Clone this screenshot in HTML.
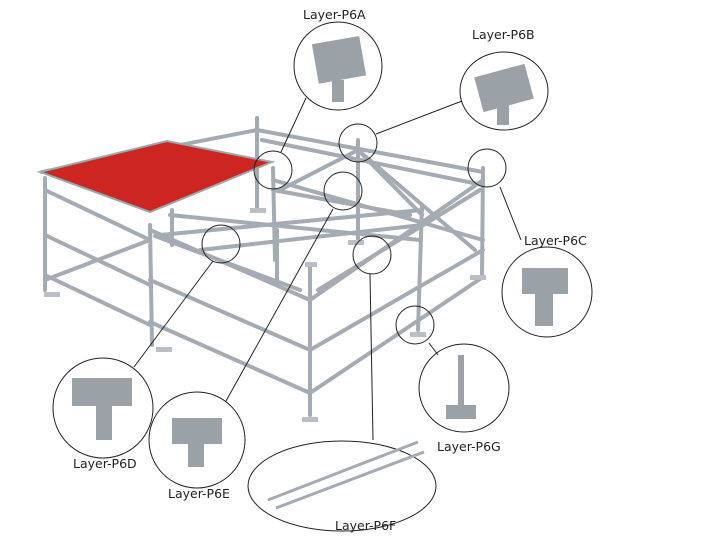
<!DOCTYPE html>
<html><head><style>body{margin:0;background:#fff}svg{display:block}text{font-family:"DejaVu Sans","Liberation Sans",sans-serif;font-size:12.5px;fill:#222}</style></head><body>
<svg width="718" height="557" viewBox="0 0 718 557" xmlns="http://www.w3.org/2000/svg">
<g stroke="#a4abb2" stroke-width="4" stroke-linecap="round" fill="none">
<!-- posts -->
<line x1="45" y1="178" x2="45" y2="290"/><line x1="150" y1="225" x2="152" y2="345"/>
<line x1="310" y1="265" x2="310" y2="415"/><line x1="422" y1="205" x2="418" y2="330"/>
<line x1="483" y1="168" x2="482" y2="275"/><line x1="257" y1="118" x2="257" y2="208"/>
<line x1="273" y1="168" x2="275" y2="260"/><line x1="358" y1="140" x2="358" y2="240"/>
<line x1="277" y1="230" x2="277" y2="285"/><line x1="172" y1="210" x2="172" y2="245"/>
<!-- front-left face -->
<line x1="45" y1="190" x2="150" y2="240"/><line x1="45" y1="235" x2="150" y2="285"/>
<line x1="45" y1="275" x2="150" y2="325"/><line x1="45" y1="280" x2="150" y2="240"/>
<!-- front face -->
<line x1="150" y1="230" x2="310" y2="300"/><line x1="150" y1="280" x2="310" y2="350"/>
<line x1="150" y1="322" x2="310" y2="393"/><line x1="155" y1="236" x2="300" y2="290"/>
<!-- right face -->
<line x1="310" y1="300" x2="483" y2="180"/><line x1="310" y1="350" x2="483" y2="250"/>
<line x1="310" y1="393" x2="483" y2="277"/><line x1="318" y1="290" x2="480" y2="190"/>
<!-- left & back -->
<line x1="42" y1="172" x2="257" y2="130"/><line x1="257" y1="130" x2="483" y2="172"/>
<line x1="262" y1="140" x2="483" y2="185"/><line x1="160" y1="235" x2="422" y2="210"/>
<line x1="273" y1="180" x2="483" y2="240"/><line x1="280" y1="190" x2="358" y2="150"/>
<line x1="358" y1="150" x2="422" y2="215"/><line x1="358" y1="150" x2="475" y2="250"/>
<line x1="200" y1="250" x2="422" y2="225"/><line x1="170" y1="215" x2="420" y2="240"/>
<line x1="273" y1="190" x2="410" y2="215"/>
</g>
<g fill="#b9bfc4">
<rect x="44" y="292" width="16" height="5"/><rect x="156" y="347" width="16" height="5"/>
<rect x="302" y="417" width="16" height="5"/><rect x="410" y="332" width="16" height="5"/>
<rect x="470" y="275" width="16" height="5"/><rect x="250" y="208" width="16" height="5"/>
<rect x="348" y="240" width="16" height="5"/><rect x="305" y="262" width="12" height="5"/>
</g>
<polygon points="40,172 167,141 272,162 150,212" fill="#cc2522" stroke="#9aa" stroke-width="2"/>
<g fill="none" stroke="#222" stroke-width="1">
<circle cx="338" cy="66" r="44"/><ellipse cx="504" cy="91" rx="44" ry="39"/>
<circle cx="547" cy="292" r="45"/><circle cx="103" cy="408" r="50"/>
<circle cx="197" cy="440" r="48"/><ellipse cx="342" cy="486" rx="94" ry="45"/>
<ellipse cx="464" cy="388" rx="45" ry="44"/>
<circle cx="273" cy="170" r="19"/><circle cx="358" cy="143" r="19"/>
<circle cx="487" cy="168" r="19"/><circle cx="343" cy="191" r="19"/>
<circle cx="221" cy="244" r="19"/><circle cx="372" cy="255" r="19"/>
<circle cx="415" cy="325" r="19"/>
<line x1="306" y1="98" x2="281" y2="152"/><line x1="462" y1="101" x2="376" y2="134"/>
<line x1="500" y1="187" x2="521" y2="240"/><line x1="134" y1="367" x2="213" y2="261"/>
<line x1="226" y1="401" x2="333" y2="209"/><line x1="370" y1="274" x2="373" y2="440"/>
<line x1="429" y1="343" x2="438" y2="355"/>
</g>
<g fill="#9aa2a8">
<rect x="315" y="40" width="48" height="40" transform="rotate(-10 338 60)"/><rect x="332" y="80" width="12" height="22"/>
<rect x="478" y="70" width="52" height="36" transform="rotate(-15 504 88)"/><rect x="497" y="105" width="12" height="20"/>
<rect x="522" y="268" width="46" height="26"/><rect x="535" y="290" width="18" height="36"/>
<rect x="72" y="378" width="60" height="28"/><rect x="96" y="405" width="16" height="35"/>
<rect x="172" y="418" width="50" height="26"/><rect x="188" y="442" width="16" height="25"/>
<rect x="458" y="355" width="6" height="52"/><rect x="446" y="405" width="30" height="14"/>
</g>
<g stroke="#a4abb2" stroke-width="3"><line x1="268" y1="500" x2="418" y2="442"/><line x1="276" y1="508" x2="424" y2="452"/></g>
<text x="303" y="19">Layer-P6A</text><text x="472" y="39">Layer-P6B</text>
<text x="524" y="245">Layer-P6C</text><text x="73" y="468">Layer-P6D</text>
<text x="168" y="498">Layer-P6E</text><text x="335" y="530">Layer-P6F</text>
<text x="437" y="451">Layer-P6G</text>
</svg></body></html>
